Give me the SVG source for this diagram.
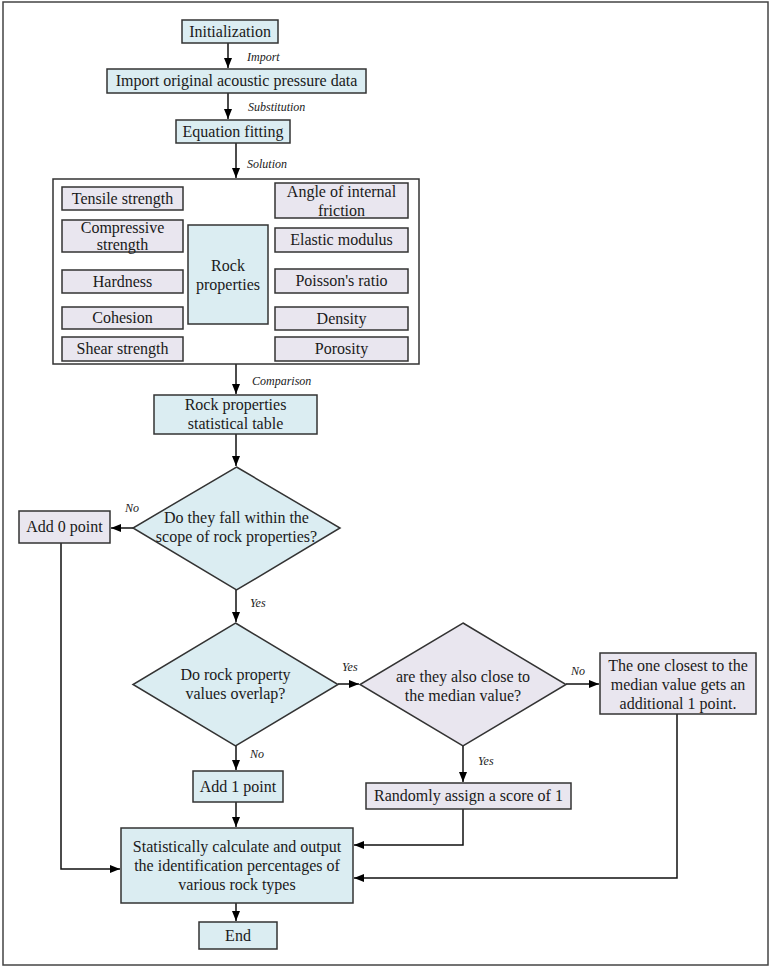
<svg xmlns="http://www.w3.org/2000/svg" width="772" height="969" viewBox="0 0 772 969">
<defs>
<marker id="ah" viewBox="0 0 10 10" refX="10" refY="5" markerWidth="10" markerHeight="10" markerUnits="userSpaceOnUse" orient="auto">
<path d="M0,1 L10,5 L0,9 Z" fill="#000"/>
</marker>
<style>
.b{fill:#dbedf2;stroke:#333;stroke-width:1.5}
.p{fill:#e9e6ef;stroke:#333;stroke-width:1.5}
.w{fill:#fff;stroke:#333;stroke-width:1.5}
text{font-family:"Liberation Serif","Times New Roman",serif;font-size:16px;fill:#1a1a1a;text-anchor:middle}
text.l{font-size:12px;font-style:italic;text-anchor:start}
.a{fill:none;stroke:#111;stroke-width:1.5;marker-end:url(#ah)}
</style>
</defs>
<rect x="0" y="0" width="772" height="969" fill="#fff"/>
<rect x="3" y="2" width="765" height="963" fill="none" stroke="#444" stroke-width="1.5"/>

<g id="connectors">
<path class="a" d="M228,43 V68"/>
<path class="a" d="M228,93 V119"/>
<path class="a" d="M236,143 V178"/>
<path class="a" d="M236,364 V394"/>
<path class="a" d="M236,434 V466"/>
<path class="a" d="M133,528 H111"/>
<path class="a" d="M61,543 V869 H120"/>
<path class="a" d="M236,590 V622"/>
<path class="a" d="M338,684 H359"/>
<path class="a" d="M566,684 H599"/>
<path class="a" d="M236,746 V770"/>
<path class="a" d="M463,746 V782"/>
<path class="a" d="M236,802 V827"/>
<path class="a" d="M463,809 V845 H354"/>
<path class="a" d="M677,714 V878 H354"/>
<path class="a" d="M236,903 V921"/>
<text class="l" x="247" y="61">Import</text>
<text class="l" x="248" y="111">Substitution</text>
<text class="l" x="247" y="168">Solution</text>
<text class="l" x="252" y="385">Comparison</text>
<text class="l" x="125" y="512">No</text>
<text class="l" x="250" y="607">Yes</text>
<text class="l" x="342" y="671">Yes</text>
<text class="l" x="250" y="758">No</text>
<text class="l" x="478" y="765">Yes</text>
<text class="l" x="571" y="675">No</text>
</g>

<g id="init"><rect class="b" x="182" y="20" width="96" height="23"/><text x="230" y="37">Initialization</text></g>
<g id="import"><rect class="b" x="107" y="69" width="259" height="24"/><text x="236.5" y="86">Import original acoustic pressure data</text></g>
<g id="fit"><rect class="b" x="176" y="120" width="114" height="23"/><text x="233" y="137">Equation fitting</text></g>

<g id="props">
<rect class="w" x="53" y="179" width="366" height="185"/>
<g id="tensile"><rect class="p" x="62" y="187" width="121" height="23"/><text x="122.5" y="204">Tensile strength</text></g>
<g id="compressive"><rect class="p" x="62" y="220" width="121" height="32"/><text x="122.5" y="233">Compressive</text><text x="122.5" y="250">strength</text></g>
<g id="hardness"><rect class="p" x="62" y="270" width="121" height="23"/><text x="122.5" y="287">Hardness</text></g>
<g id="cohesion"><rect class="p" x="62" y="307" width="121" height="22"/><text x="122.5" y="323">Cohesion</text></g>
<g id="shear"><rect class="p" x="62" y="337" width="121" height="24"/><text x="122.5" y="354">Shear strength</text></g>
<g id="rock"><rect class="b" x="188" y="225" width="80" height="99"/><text x="228" y="271">Rock</text><text x="228" y="290">properties</text></g>
<g id="angle"><rect class="p" x="275" y="183" width="133" height="35"/><text x="341.5" y="197">Angle of internal</text><text x="341.5" y="216">friction</text></g>
<g id="elastic"><rect class="p" x="275" y="228" width="133" height="24"/><text x="341.5" y="245">Elastic modulus</text></g>
<g id="poisson"><rect class="p" x="275" y="269" width="133" height="24"/><text x="341.5" y="286">Poisson's ratio</text></g>
<g id="density"><rect class="p" x="275" y="307" width="133" height="23"/><text x="341.5" y="324">Density</text></g>
<g id="porosity"><rect class="p" x="275" y="337" width="133" height="24"/><text x="341.5" y="354">Porosity</text></g>
</g>

<g id="table"><rect class="b" x="154" y="395" width="163" height="39"/><text x="235.5" y="410">Rock properties</text><text x="235.5" y="429">statistical table</text></g>
<g id="d1"><polygon class="b" points="236.5,467 340,528 236.5,590 133,528"/><text x="236.5" y="523">Do they fall within the</text><text x="236.5" y="542">scope of rock properties?</text></g>
<g id="add0"><rect class="p" x="19" y="511" width="91" height="32"/><text x="64.5" y="532">Add 0 point</text></g>
<g id="d2"><polygon class="b" points="235.5,623 338,684.5 235.5,746 133,684.5"/><text x="235.5" y="680">Do rock property</text><text x="235.5" y="699">values overlap?</text></g>
<g id="d3"><polygon class="p" points="463,623 566,684.5 463,746 360,684.5"/><text x="463" y="682">are they also close to</text><text x="463" y="701">the median value?</text></g>
<g id="closest"><rect class="p" x="600" y="653" width="156" height="61"/><text x="678" y="671">The one closest to the</text><text x="678" y="690">median value gets an</text><text x="678" y="709">additional 1 point.</text></g>
<g id="add1"><rect class="b" x="193" y="771" width="90" height="31"/><text x="238" y="792">Add 1 point</text></g>
<g id="random"><rect class="p" x="366" y="783" width="205" height="26"/><text x="468.5" y="801">Randomly assign a score of 1</text></g>
<g id="stat"><rect class="b" x="121" y="828" width="232" height="75"/><text x="237" y="852">Statistically calculate and output</text><text x="237" y="871">the identification percentages of</text><text x="237" y="890">various rock types</text></g>
<g id="end"><rect class="b" x="199" y="922" width="78" height="27"/><text x="238" y="941">End</text></g>
</svg>
